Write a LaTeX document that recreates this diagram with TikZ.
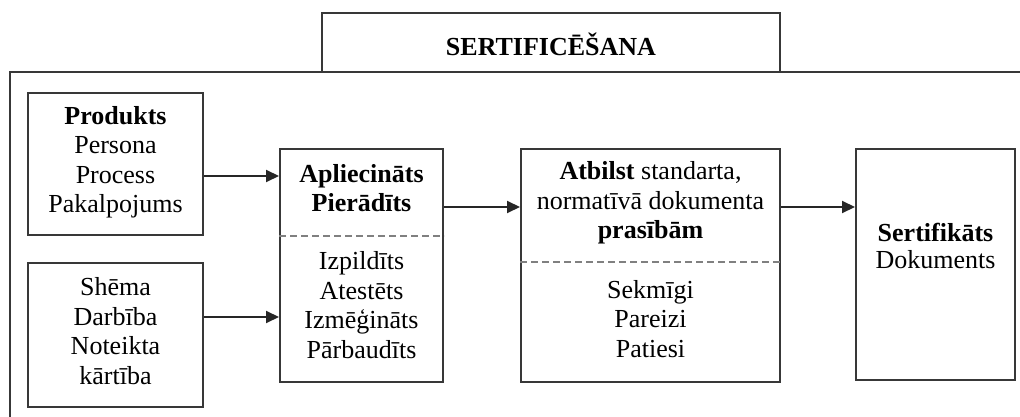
\documentclass[tikz,border=0pt]{standalone}
\usepackage{fontspec}
\setmainfont{Liberation Serif}
\usetikzlibrary{arrows.meta}
\begin{document}
\begin{tikzpicture}[x=1pt,y=-1pt,
  frame/.style={draw=black!78,line width=2pt},
  boxnode/.style={draw=black!78,line width=2pt,inner sep=0pt,minimum width=#1},
  txt/.style={align=center,inner sep=0pt,font=\fontsize{26}{29.5}\selectfont},
  sep/.style={draw=black!50,line width=2pt,dash pattern=on 7pt off 4pt},
  arr/.style={draw=black!85,line width=2pt,-{Triangle[length=13pt,width=12pt]}}]
\useasboundingbox (0,0) rectangle (1020,417);
% outer frame and title tab
\draw[frame] (10,417) -- (10,72) -- (1020,72);
\node[frame,minimum width=458pt,minimum height=59pt,inner sep=0pt] (title) at (551,42.5) {};
\node[txt,font=\fontsize{26}{29.5}\selectfont\bfseries] (titletxt) at (551,44) {SERTIFICĒŠANA};
% boxes
\node[boxnode=175pt,minimum height=142pt] (prod) at (115.5,164) {};
\node[boxnode=175pt,minimum height=144pt] (shem) at (115.5,335) {};
\node[boxnode=163pt,minimum height=233pt] (apl) at (361.5,265.5) {};
\node[boxnode=259pt,minimum height=233pt] (atb) at (650.5,265.5) {};
\node[boxnode=159pt,minimum height=231pt] (sert) at (935.5,264.5) {};
% texts
\node[txt] (prodtxt) at (115.5,162) {\textbf{Produkts}\\Persona\\Process\\Pakalpojums};
\node[txt] (shemtxt) at (115.5,331) {Shēma\\Darbība\\Noteikta\\kārtība};
\node[txt] (apltop) at (361.5,188) {\textbf{Apliecināts}\\\textbf{Pierādīts}};
\node[txt] (aplbot) at (361.5,305) {Izpildīts\\Atestēts\\Izmēģināts\\Pārbaudīts};
\node[txt] (atbtop) at (650.5,203) {\textbf{Atbilst} standarta,\\normatīvā dokumenta\\\textbf{prasībām}};
\node[txt] (atbbot) at (650.5,319) {Sekmīgi\\Pareizi\\Patiesi};
\node[txt,font=\fontsize{26}{27}\selectfont] (serttxt) at (935.5,246) {\textbf{Sertifikāts}\\Dokuments};
% dashed separators
\draw[sep] (apl.west |- 0,236) coordinate (s1) -- (s1 -| apl.east);
\draw[sep] (atb.west |- 0,262) coordinate (s2) -- (s2 -| atb.east);
% connectors
\path ([yshift=-12pt]prod.east) coordinate (a1);
\draw[arr] (a1) -- (a1 -| apl.west);
\path ([yshift=18pt]shem.east) coordinate (a2);
\draw[arr] (a2) -- (a2 -| apl.west);
\path ([yshift=58.5pt]apl.east) coordinate (a3);
\draw[arr] (a3) -- (a3 -| atb.west);
\path ([yshift=58.5pt]atb.east) coordinate (a4);
\draw[arr] (a4) -- (a4 -| sert.west);
\end{tikzpicture}
\end{document}
